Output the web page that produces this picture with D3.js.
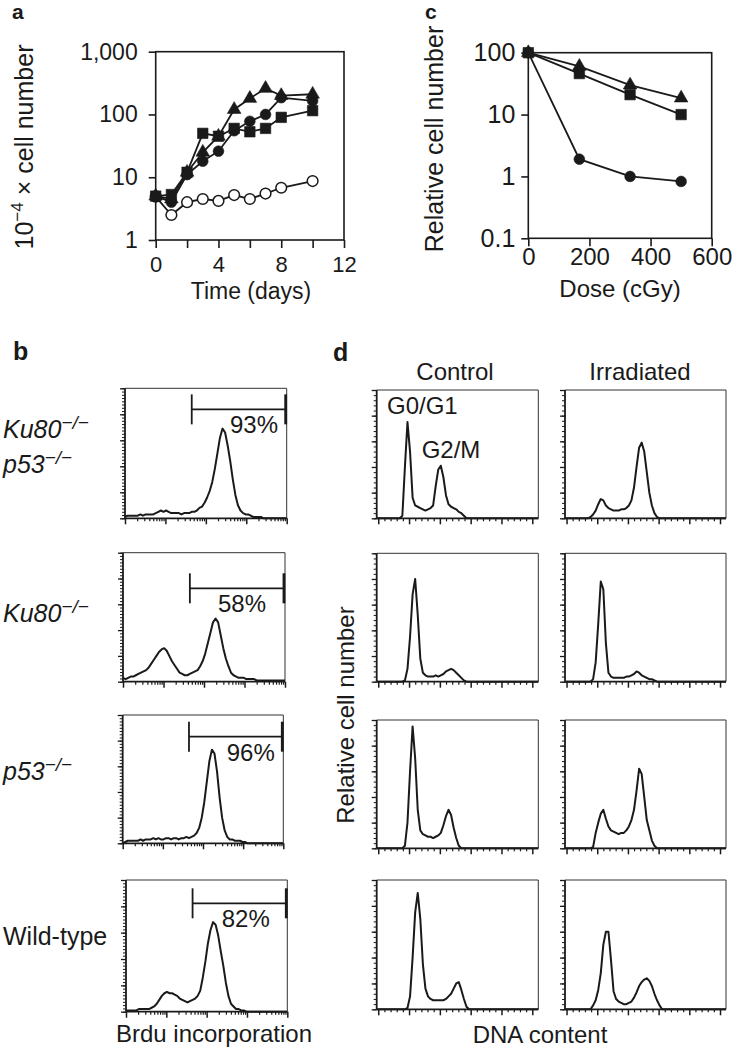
<!DOCTYPE html>
<html><head><meta charset="utf-8">
<script src="https://cdn.jsdelivr.net/npm/d3@7/dist/d3.min.js"></script>
<style>
html,body{margin:0;padding:0;background:#fff;}
svg{display:block;}
text{font-family:"Liberation Sans",Arial,Helvetica,sans-serif;fill:#1a1a1a;}
</style></head><body>
<svg id="fig" width="742" height="1050"></svg>
<script>
// ---------- Panel a : growth curves ----------
const growthDays     = [0, 1, 2, 3, 4, 5, 6, 7, 8, 10];
const growthTriangle = [5, 4.5, 12, 25, 45, 120, 180, 260, 200, 210];
const growthCircle   = [5, 4, 11, 18, 26, 55, 78, 100, 185, 165];
const growthSquare   = [5, 5.3, 12, 50, 45, 60, 53, 60, 90, 115];
const growthOpen     = [4.9, 2.5, 4.0, 4.5, 4.2, 5.2, 4.5, 5.5, 6.8, 8.7];
const growthXTicks   = [0, 2, 4, 6, 8, 10, 12];
const growthXLabels  = ["0", "", "4", "", "8", "", "12"];
const growthYTicks   = [1, 10, 100, 1000];
const growthYLabels  = ["1", "10", "100", "1,000"];

// ---------- Panel c : survival after irradiation ----------
const doses        = [0, 167, 333, 500];
const survTriangle = [100, 60, 30, 18.5];
const survSquare   = [100, 46, 21, 10];
const survCircle   = [100, 1.9, 1.0, 0.83];
const doseTicks    = [0, 200, 400, 600];
const survYTicks   = [0.1, 1, 10, 100];
const survYLabels  = ["0.1", "1", "10", "100"];

// ---------- Panel b : BrdU histograms (64 channels, % of frame height) ----------
const brduLabels   = [["Ku80\u2212/\u2212", "p53\u2212/\u2212"], ["Ku80\u2212/\u2212"], ["p53\u2212/\u2212"], ["Wild-type"]];
const brduPercents = ["93%", "58%", "96%", "82%"];
const brduGate     = [26, 62.6];
const brduKu80p53 = [1,2,2,2,2,2,3,2,3,3, 3,3,4,5,6,5,6,5,4,4, 4,4,3,4,4,4,5,5,6,8,
  9,12,16,21,28,38,50,62,69,66, 56,44,30,18,10,6,4,3,3,2, 1,1,1,1,0,0,0,0,0,0, 0,0,0,0];
const brduKu80 = [3,2,3,4,4,5,6,7,8,9, 11,14,17,20,23,25,26,24,20,16, 13,10,7,6,5,5,6,7,8,9,
  12,16,22,30,38,46,49,46,36,26, 18,12,7,5,4,3,3,3,2,2, 2,2,1,1,1,1,1,1,1,1, 1,1,1,1];
const brduP53 = [0,1,2,2,2,2,2,3,2,3, 3,3,4,3,4,3,3,4,4,3, 4,4,3,4,4,5,4,5,6,8,
  12,20,32,48,64,73,70,56,36,20, 10,5,3,3,2,2,2,1,1,0, 0,0,0,0,0,0,0,0,0,0, 0,0,0,0];
const brduWT = [1,1,1,1,1,2,2,2,2,2, 3,4,6,9,12,14,15,14,14,13, 12,10,9,8,7,8,9,10,12,16,
  26,38,52,62,68,66,58,46,35,22, 12,6,4,2,2,1,1,0,0,0, 0,0,0,0,0,0,0,0,0,0, 0,0,0,0];

// ---------- Panel d : DNA content histograms (64 channels, % of frame height) ----------
const dnaHeaders = ["Control", "Irradiated"];
const dnaCtrlKu80p53 = [0,0,0,0,0,0,0,0,0,0, 2,40,75,52,16,10,9,8,7,6, 7,8,10,25,38,41,32,18,11,9,
  8,7,5,4,2,0,0,0,0,0, 0,0,0,0,0,0,0,0,0,0, 0,0,0,0,0,0,0,0,0,0, 0,0,0,0];
const dnaIrrKu80p53 = [0,0,0,0,0,0,0,0,0,0, 1,3,6,11,15,14,10,8,7,6, 6,6,7,7,8,10,14,24,40,55,
  59,52,36,20,10,4,1,0,0,0, 0,0,0,0,0,0,0,0,0,0, 0,0,0,0,0,0,0,0,0,0, 0,0,0,0];
const dnaCtrlKu80 = [0,0,0,0,0,0,0,0,0,0, 0,1,10,35,68,80,52,18,7,5, 4,4,4,5,4,5,6,8,9,10,
  9,7,5,3,1,0,0,0,0,0, 0,0,0,0,0,0,0,0,0,0, 0,0,0,0,0,0,0,0,0,0, 0,0,0,0];
const dnaIrrKu80 = [0,0,0,0,0,0,0,0,0,0, 0,2,15,45,78,72,30,7,4,3, 3,3,3,3,4,4,5,6,8,7,
  5,4,3,2,2,1,0,0,0,0, 0,0,0,0,0,0,0,0,0,0, 0,0,0,0,0,0,0,0,0,0, 0,0,0,0];
const dnaCtrlP53 = [0,0,0,0,0,0,0,0,0,0, 0,2,20,60,95,70,30,14,11,10, 9,9,8,9,10,12,18,25,30,26,
  16,8,2,0,0,0,0,0,0,0, 0,0,0,0,0,0,0,0,0,0, 0,0,0,0,0,0,0,0,0,0, 0,0,0,0];
const dnaIrrP53 = [0,0,0,0,0,0,0,0,0,0, 0,1,12,20,27,30,23,17,14,13, 12,11,12,12,14,17,22,30,45,62,
  58,40,22,14,6,2,0,0,0,0, 0,0,0,0,0,0,0,0,0,0, 0,0,0,0,0,0,0,0,0,0, 0,0,0,0];
const dnaCtrlWT = [0,0,0,0,0,0,0,0,0,0, 0,0,1,10,40,75,90,70,35,16, 10,8,7,7,7,7,7,8,10,12,
  16,20,21,15,8,2,0,0,0,0, 0,0,0,0,0,0,0,0,0,0, 0,0,0,0,0,0,0,0,0,0, 0,0,0,0];
const dnaIrrWT = [0,0,0,0,0,0,0,0,0,0, 0,3,7,15,28,50,60,60,38,14, 8,6,5,4,4,5,6,9,13,18,
  21,23,24,22,18,12,7,3,0,0, 0,0,0,0,0,0,0,0,0,0, 0,0,0,0,0,0,0,0,0,0, 0,0,0,0];

// =====================================================================
const FONT = '"Liberation Sans", Arial, Helvetica, sans-serif';
const INK = "#1a1a1a";
const svg = d3.select("#fig");

function label(x, y, s, size, opt = {}) {
  const t = svg.append("text").attr("x", x).attr("y", y).attr("font-size", size)
    .attr("text-anchor", opt.anchor || "start").text(s);
  if (opt.bold) t.attr("font-weight", "bold");
  if (opt.italic) t.attr("font-style", "italic");
  return t;
}
function styleAxis(g, fs, sw) {
  g.attr("font-family", FONT).attr("font-size", fs);
  g.select(".domain").remove();
  g.selectAll(".tick line").attr("stroke", INK).attr("stroke-width", sw);
  g.selectAll(".tick text").attr("fill", INK);
}
function series(g, xs, ys, xS, yS, shape, size, open) {
  g.append("path").datum(ys)
    .attr("d", d3.line().x((d, i) => xS(xs[i])).y(d => yS(d)))
    .attr("fill", "none").attr("stroke", INK).attr("stroke-width", 1.8);
  g.selectAll(null).data(ys).join("path")
    .attr("transform", (d, i) => `translate(${xS(xs[i])},${yS(d)})`)
    .attr("d", d3.symbol(shape, size)())
    .attr("fill", open ? "#fff" : INK).attr("stroke", INK).attr("stroke-width", open ? 1.5 : 0.6);
}

// ---------------- Panel a ----------------
{
  const g = svg.append("g");
  const x = d3.scaleLinear().domain([0, 12]).range([155.7, 344]);
  const y = d3.scaleLog().domain([1, 1000]).range([240, 51.7]);
  g.append("rect").attr("x", x(0)).attr("y", y(1000)).attr("width", x(12) - x(0)).attr("height", y(1) - y(1000))
    .attr("fill", "none").attr("stroke", INK).attr("stroke-width", 1.6);
  styleAxis(g.append("g").attr("transform", `translate(0,${y(1)})`)
    .call(d3.axisBottom(x).tickValues(growthXTicks).tickFormat((d, i) => growthXLabels[i]).tickSize(8).tickPadding(8)), 22, 1.6);
  styleAxis(g.append("g").attr("transform", `translate(${x(0)},0)`)
    .call(d3.axisLeft(y).tickValues(growthYTicks).tickFormat((d, i) => growthYLabels[i]).tickSize(7).tickPadding(11)), 23, 1.6);
  series(g, growthDays, growthOpen, x, y, d3.symbolCircle, 90, true);
  series(g, growthDays, growthSquare, x, y, d3.symbolSquare, 110, false);
  series(g, growthDays, growthCircle, x, y, d3.symbolCircle, 90, false);
  series(g, growthDays, growthTriangle, x, y, d3.symbolTriangle, 80, false);
  label(251, 299, "Time (days)", 23, { anchor: "middle" });
  const t = svg.append("text").attr("transform", "translate(33,147) rotate(-90)")
    .attr("text-anchor", "middle").attr("font-size", 25);
  t.append("tspan").text("10");
  t.append("tspan").attr("dy", -10).attr("font-size", 17).text("\u22124");
  t.append("tspan").attr("dy", 10).text(" \u00d7 cell number");
  label(12, 19, "a", 21, { bold: true });
}

// ---------------- Panel c ----------------
{
  const g = svg.append("g");
  const x = d3.scaleLinear().domain([0, 600]).range([528.3, 711.7]);
  const y = d3.scaleLog().domain([0.1, 100]).range([238.3, 52.7]);
  g.append("rect").attr("x", x(0)).attr("y", y(100)).attr("width", x(600) - x(0)).attr("height", y(0.1) - y(100))
    .attr("fill", "none").attr("stroke", INK).attr("stroke-width", 1.6);
  styleAxis(g.append("g").attr("transform", `translate(0,${y(0.1)})`)
    .call(d3.axisBottom(x).tickValues(doseTicks).tickSize(8).tickPadding(2)), 24, 1.6);
  styleAxis(g.append("g").attr("transform", `translate(${x(0)},0)`)
    .call(d3.axisLeft(y).tickValues(survYTicks).tickFormat((d, i) => survYLabels[i]).tickSize(7).tickPadding(6)), 25, 1.6);
  series(g, doses, survCircle, x, y, d3.symbolCircle, 90, false);
  series(g, doses, survSquare, x, y, d3.symbolSquare, 110, false);
  series(g, doses, survTriangle, x, y, d3.symbolTriangle, 80, false);
  label(620, 297, "Dose (cGy)", 24, { anchor: "middle" });
  svg.append("text").attr("transform", "translate(443,139) rotate(-90)")
    .attr("text-anchor", "middle").attr("font-size", 25).text("Relative cell number");
  label(425, 19, "c", 21, { bold: true });
}

// ---------------- histogram helper ----------------
function histFrame(box, logX, minorY) {
  const g = svg.append("g");
  const y = d3.scaleLinear().domain([0, 100]).range([box.y1, box.y0]);
  g.append("path").attr("d", `M${box.x0},${box.y0}H${box.x1}V${box.y1}`)
    .attr("fill", "none").attr("stroke", "#333").attr("stroke-width", 1);
  const yMinor = d3.range(0, 100.01, minorY), yMajor = d3.range(0, 100.01, 20);
  styleAxis(g.append("g").attr("transform", `translate(${box.x0},0)`)
    .call(d3.axisLeft(y).tickValues(yMinor).tickSize(3).tickFormat("")), 10, 1);
  styleAxis(g.append("g").attr("transform", `translate(${box.x0},0)`)
    .call(d3.axisLeft(y).tickValues(yMajor).tickSize(5).tickFormat("")), 10, 1.3);
  let xa, minor, major;
  if (logX) {
    xa = d3.scaleLog().domain([1, 10000]).range([box.x0, box.x1]);
    minor = []; for (let k = 0; k < 4; k++) for (let m = 2; m <= 9; m++) minor.push(m * Math.pow(10, k));
    major = [1, 10, 100, 1000, 10000];
  } else {
    xa = d3.scaleLinear().domain([-10, 1039]).range([box.x0, box.x1]);
    minor = d3.range(40, 1001, 40).filter(v => v % 200 !== 0);
    major = d3.range(0, 1001, 200);
  }
  styleAxis(g.append("g").attr("transform", `translate(0,${box.y1})`)
    .call(d3.axisBottom(xa).tickValues(minor).tickSize(3).tickFormat("")), 10, 1.2);
  styleAxis(g.append("g").attr("transform", `translate(0,${box.y1})`)
    .call(d3.axisBottom(xa).tickValues(major).tickSize(6).tickFormat("")), 10, 1.5);
  g.append("line").attr("x1", box.x0).attr("x2", box.x0).attr("y1", box.y0).attr("y2", box.y1)
    .attr("stroke", INK).attr("stroke-width", 1.8);
  g.append("line").attr("x1", box.x0).attr("x2", box.x1).attr("y1", box.y1).attr("y2", box.y1)
    .attr("stroke", INK).attr("stroke-width", 1.8);
  return { g, y };
}
function histLine(box, fr, values) {
  const x = d3.scaleLinear().domain([0, values.length - 1]).range([box.x0, box.x1]);
  fr.g.append("path").datum(values)
    .attr("d", d3.line().x((d, i) => x(i)).y(d => fr.y(d)))
    .attr("fill", "none").attr("stroke", INK).attr("stroke-width", 2).attr("stroke-linejoin", "round");
  return x;
}
function genoText(x, y, s, size) {
  const t = svg.append("text").attr("x", x).attr("y", y).attr("font-size", size);
  const i = s.indexOf("\u2212");
  if (i < 0) { t.text(s); return; }
  t.attr("font-style", "italic");
  t.append("tspan").text(s.slice(0, i));
  t.append("tspan").attr("dy", -9).attr("font-size", 19).text(s.slice(i));
}

// ---------------- Panel b ----------------
{
  const boxes = [
    { x0: 125, x1: 286.7, y0: 388.3, y1: 518.3 },
    { x0: 123, x1: 285, y0: 552.7, y1: 681.7 },
    { x0: 122.7, x1: 283.3, y0: 715, y1: 843.3 },
    { x0: 126, x1: 287.3, y0: 880, y1: 1011.7 }];
  const series4 = [brduKu80p53, brduKu80, brduP53, brduWT];
  const gateLevel = [83.8, 72.4, 83.1, 82.3];
  const pctX = [230, 218, 226.7, 221.7];
  const labelY = [[438.3, 473.3], [621.7], [780], [945]];
  boxes.forEach((b, k) => {
    const fr = histFrame(b, true, 2.5);
    const x = histLine(b, fr, series4[k]);
    const gy = fr.y(gateLevel[k]);
    const gx0 = x(brduGate[0]), gx1 = x(brduGate[1]);
    fr.g.append("line").attr("x1", gx0).attr("x2", gx1).attr("y1", gy).attr("y2", gy).attr("stroke", INK).attr("stroke-width", 1.8);
    fr.g.append("line").attr("x1", gx0).attr("x2", gx0).attr("y1", gy - 15).attr("y2", gy + 15).attr("stroke", INK).attr("stroke-width", 1.8);
    fr.g.append("line").attr("x1", gx1).attr("x2", gx1).attr("y1", gy - 15).attr("y2", gy + 15).attr("stroke", INK).attr("stroke-width", 2.8);
    label(pctX[k], gy + 24, brduPercents[k], 24);
    brduLabels[k].forEach((s, j) => genoText(3, labelY[k][j], s, 25));
  });
  label(214, 1042, "Brdu incorporation", 24, { anchor: "middle" });
  label(13, 360, "b", 25, { bold: true });
}

// ---------------- Panel d ----------------
{
  const cols = [[376.7, 538.3], [565, 726]];
  const rows = [[390, 518.3], [553.3, 681.7], [720, 848.3], [880, 1009.3]];
  const data = [[dnaCtrlKu80p53, dnaIrrKu80p53], [dnaCtrlKu80, dnaIrrKu80], [dnaCtrlP53, dnaIrrP53], [dnaCtrlWT, dnaIrrWT]];
  rows.forEach((r, i) => cols.forEach((c, j) => {
    const b = { x0: c[0], x1: c[1], y0: r[0], y1: r[1] };
    const fr = histFrame(b, false, 4);
    histLine(b, fr, data[i][j]);
  }));
  label(455, 380, dnaHeaders[0], 24, { anchor: "middle" });
  label(640, 380, dnaHeaders[1], 24, { anchor: "middle" });
  label(387, 413.5, "G0/G1", 24);
  label(421.7, 458.3, "G2/M", 24);
  label(540, 1043, "DNA content", 24, { anchor: "middle" });
  svg.append("text").attr("transform", "translate(354,715) rotate(-90)")
    .attr("text-anchor", "middle").attr("font-size", 24).text("Relative cell number");
  label(333, 361, "d", 25, { bold: true });
}
</script></body></html>
